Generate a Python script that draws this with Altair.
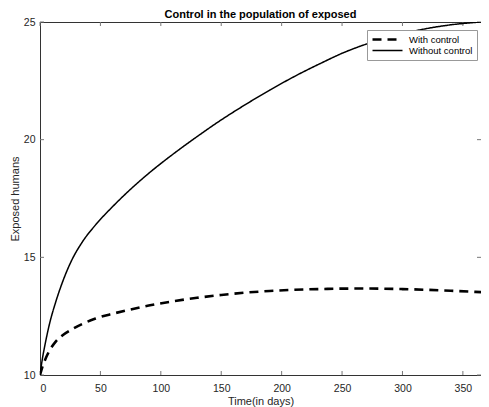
import altair as alt
import pandas as pd

# Time points (days)
t = [0, 2, 4, 8, 13, 19, 26, 35, 46, 60, 73, 90, 110, 130, 150, 170, 190, 210, 235, 250, 270, 300, 320, 340, 365]
# Exposed humans without control
without_control = [10.0, 10.7, 11.25, 12.2, 13.1, 14.0, 14.85, 15.65, 16.38, 17.15, 17.8, 18.57, 19.38, 20.13, 20.84,
                   21.49, 22.1, 22.67, 23.31, 23.67, 24.06, 24.5, 24.72, 24.88, 25.0]
# Exposed humans with control
with_control = [10.0, 10.35, 10.62, 11.05, 11.42, 11.7, 11.93, 12.17, 12.4, 12.6, 12.76, 12.95, 13.13, 13.28, 13.4,
                13.5, 13.57, 13.62, 13.655, 13.67, 13.675, 13.65, 13.62, 13.58, 13.52]

series_names = ["With control", "Without control"]
x_ticks = [0, 50, 100, 150, 200, 250, 300, 350]
y_ticks = [10, 15, 20, 25]

rows = []
for ti, v in zip(t, with_control):
    rows.append({"t": ti, "v": v, "s": series_names[0]})
for ti, v in zip(t, without_control):
    rows.append({"t": ti, "v": v, "s": series_names[1]})
df = pd.DataFrame(rows)
xt = pd.DataFrame({"t": x_ticks})
yt = pd.DataFrame({"v": y_ticks})

FONT = "Liberation Sans"
TXT = "#262626"
TICK = "#777777"
W, H = 441, 353

xscale = alt.Scale(domain=[0, 365], nice=False, zero=False)
yscale = alt.Scale(domain=[10, 25], nice=False, zero=False)
xaxis = alt.Axis(orient="bottom", values=x_ticks, title="Time(in days)", ticks=False, tickSize=0,
                 labelPadding=8, titlePadding=2, domain=False, grid=False)
yaxis = alt.Axis(orient="left", values=y_ticks, title="Exposed humans", ticks=False, tickSize=0,
                 labelPadding=5, titlePadding=3, domain=False, grid=False)
X = alt.X("t:Q", scale=xscale, axis=xaxis, title="Time(in days)")
Y = alt.Y("v:Q", scale=yscale, axis=yaxis, title="Exposed humans")

lines = alt.Chart(df).mark_line(color="black", interpolate="monotone", clip=True).encode(
    x=X, y=Y,
    strokeDash=alt.StrokeDash("s:N", scale=alt.Scale(domain=series_names, range=[[9, 6], [1, 0]]),
                              legend=alt.Legend(title=None, orient="none", legendX=327, legendY=8)),
    strokeWidth=alt.StrokeWidth("s:N", scale=alt.Scale(domain=series_names, range=[2.6, 1.5]), legend=None),
)

tick_style = dict(color=TICK, strokeWidth=1)
ticks_bottom = alt.Chart(xt).mark_rule(**tick_style).encode(x=X, y=alt.value(H), y2=alt.value(H - 4))
ticks_top = alt.Chart(xt).mark_rule(**tick_style).encode(x=X, y=alt.value(0), y2=alt.value(4))
ticks_left = alt.Chart(yt).mark_rule(**tick_style).encode(y=Y, x=alt.value(0), x2=alt.value(4))
ticks_right = alt.Chart(yt).mark_rule(**tick_style).encode(y=Y, x=alt.value(W), x2=alt.value(W - 4))

chart = alt.layer(ticks_bottom, ticks_top, ticks_left, ticks_right, lines).properties(
    width=W, height=H,
    title=alt.TitleParams("Control in the population of exposed", fontSize=11, fontWeight="bold",
                          font=FONT, color="black", offset=1, dy=4),
    autosize=alt.AutoSizeParams(type="none"),
    padding={"left": 32, "top": 14, "right": 0, "bottom": 32},
).configure_view(
    stroke="#333333", strokeWidth=1
).configure_axis(
    labelFont=FONT, titleFont=FONT, labelFontSize=10.5, titleFontSize=11,
    labelColor=TXT, titleColor=TXT, titleFontWeight="normal"
).configure_legend(
    labelFont=FONT, labelFontSize=9.5, labelColor="black",
    strokeColor="#999999", fillColor="white", padding=4,
    symbolType="stroke", symbolSize=900, symbolStrokeColor="black", symbolStrokeWidth=2,
    rowPadding=0, labelOffset=5, clipHeight=11
)

chart.save("out.html", embed_options={"renderer": "svg", "actions": False})
